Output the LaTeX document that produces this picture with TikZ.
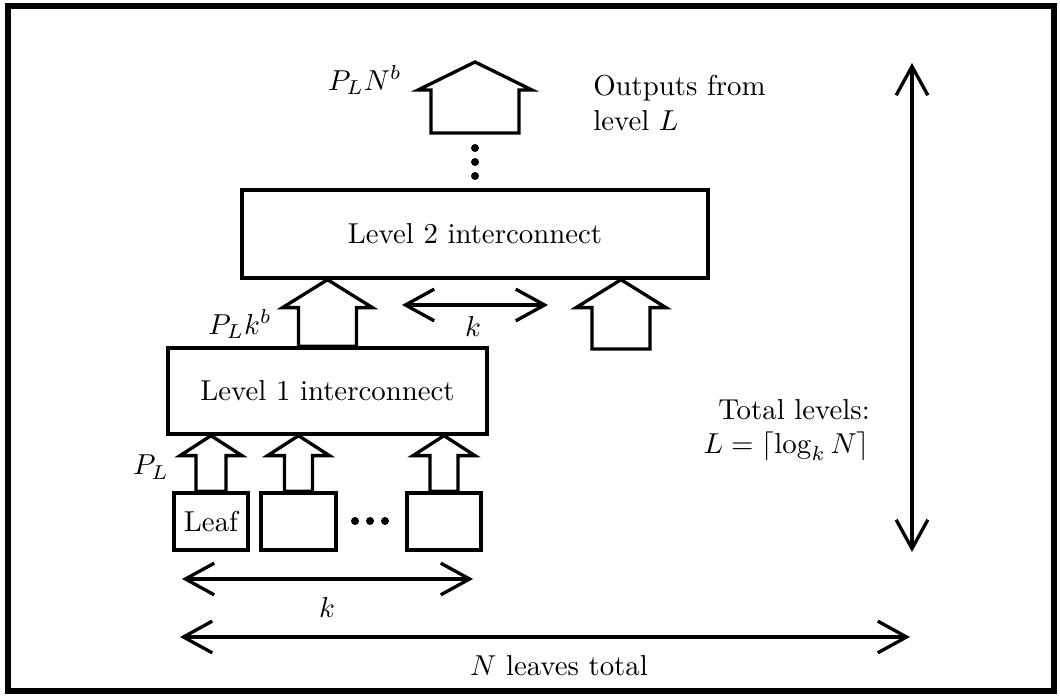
\documentclass[tikz,border=0pt]{standalone}
\usepackage{amsmath}
\usetikzlibrary{arrows.meta,calc}

\newcommand{\pxu}{0.347pt}
% block arrow: #1 foot, #2 tip, #3 half shaft, #4 half head, #5 head length
\newcommand{\fatarrow}[5]{%
  \draw (#2) -- ++(#4,#5) -- ++(#3-#4,0) -- ($(#1)+(#3,0)$)
        -- ($(#1)+(-#3,0)$) -- ($(#2)+(-#3,#5)$) -- ++(#3-#4,0) -- cycle;}

\begin{document}
\begin{tikzpicture}[x=\pxu,y=-\pxu,line width=1.15pt,
    >={Straight Barb[length=10pt,width=11pt]},
    box/.style 2 args={draw,rectangle,inner sep=0pt,
                       minimum width=#1*\pxu,minimum height=#2*\pxu}]
    \useasboundingbox (0,0) rectangle (1060,698);
    \draw [line width=2.4pt] (8,6) rectangle (1054,691);

    \node [box={319}{86}] (lvl1) at (327.5,391) {Level 1 interconnect};
    \node [box={466}{88}] (lvl2) at (475,234) {Level 2 interconnect};

    \node [box={74}{57}] (leaf1) at (211,521.5) {Leaf};
    \node [box={75}{57}] (leaf2) at (298.5,521.5) {};
    \node [box={74}{57}] (leaf3) at (444,521.5) {};
    \foreach \x in {355,370,385}
        \fill (\x,521) circle [radius=4];

    \fatarrow{leaf1.north}{leaf1.north |- lvl1.south}{15}{31}{20}
    \fatarrow{leaf2.north}{leaf2.north |- lvl1.south}{14}{31}{20}
    \fatarrow{leaf3.north}{leaf3.north |- lvl1.south}{14}{31}{20}

    \coordinate (foot2) at (621,349);
    \fatarrow{lvl1.north}{lvl1.north |- lvl2.south}{29}{45}{28}
    \fatarrow{foot2}{foot2 |- lvl2.south}{29}{45}{28}

    \coordinate (top) at (lvl2.north |- 0,62);
    \coordinate (topfoot) at (lvl2.north |- 0,133);
    \fatarrow{topfoot}{top}{44}{57}{28}
    \foreach \y in {148,162,176}
        \fill (475,\y) circle [radius=4];

    \node (pl) at (151,467) {$P_L$};
    \node (plk) at (240,324) {$P_Lk^b$};
    \node (pln) at (365,80) {$P_LN^b$};
    \node [anchor=west,align=left] (outtxt) at (582,103)
        {Outputs from\\level $L$};
    \node [anchor=east,align=right] (levtxt) at (881,430)
        {Total levels:\\$L=\lceil\log_k N\rceil$};

    \coordinate (k1a) at (182,579);
    \coordinate (k1b) at (473,579);
    \draw [<->] (k1a) -- (k1b);
    \node (k1) at (327,607) {$k$};

    \coordinate (k2a) at (402,305);
    \coordinate (k2b) at (548,305);
    \draw [<->] (k2a) -- (k2b);
    \node (k2) at (473,326) {$k$};

    \coordinate (na) at (180,637);
    \coordinate (nb) at (910,637);
    \draw [<->] (na) -- (nb);
    \node (ntxt) at (559,666) {$N$ leaves total};

    \coordinate (la) at (912,63);
    \coordinate (lb) at (912,552);
    \draw [<->] (la) -- (lb);
\end{tikzpicture}
\end{document}
